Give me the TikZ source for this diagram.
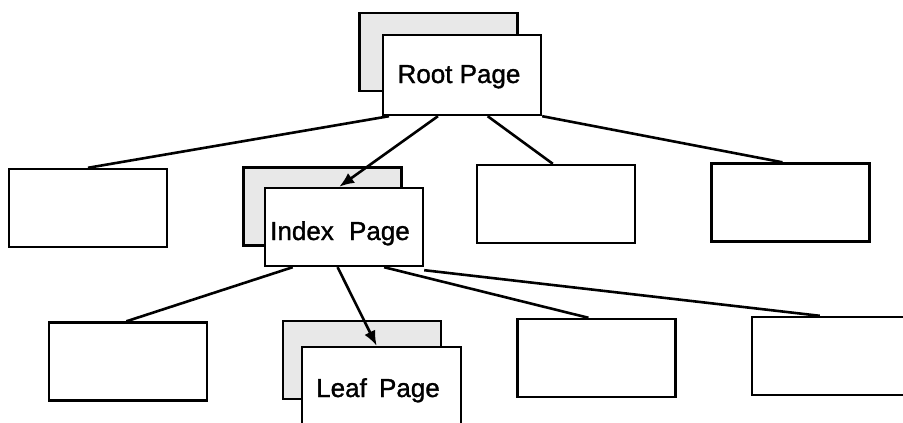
\documentclass[tikz,border=0pt]{standalone}
\usepackage{fontspec}
\setmainfont{Liberation Sans}[FakeBold=1.2]
\usetikzlibrary{arrows.meta,calc}

\tikzset{
  page/.style={draw, line width=2.4pt, fill=white, rectangle, inner sep=0pt,
    minimum width=158pt, minimum height=78pt},
  shadow page/.style={page, fill=gray!18},
  link/.style={line width=2.6pt},
  descend/.style={link, -{Latex[length=15pt,width=12pt]}},
  caption/.style={anchor=base, inner sep=0pt, font=\fontsize{26}{30}\selectfont}
}

\begin{document}
\begin{tikzpicture}[x=1pt,y=-1pt]
  \useasboundingbox (0,0) rectangle (903,423);
  \clip (0,0) rectangle (903,423);

  % root level
  \node[shadow page] (rootback) at (438.5,52) {};
  \node[page, minimum height=80pt] (root) at (462,75) {};

  % index level
  \node[page] (a) at (88,208) {};
  \node[shadow page] (indexback) at (322.5,206.5) {};
  \node[page] (index) at (344,227) {};
  \node[page] (c) at (556,204) {};
  \node[page] (d) at (790.5,202.5) {};

  % leaf level
  \node[page] (e) at (128,361.5) {};
  \node[shadow page] (leafback) at (362,360) {};
  \node[page, minimum width=159pt, minimum height=79pt] (leaf) at (381.5,386.5) {};
  \node[page] (g) at (596.5,358) {};
  \node[page] (h) at (831,356) {};

  % labels
  \node[caption] (rootlabel) at (459,83) {Root Page};
  \node[caption] (indexlabel) at (340,240) {Index\hspace{8pt} Page};
  \node[caption] (leaflabel) at (378,397) {Leaf\hspace{5pt} Page};

  % root to index level
  \draw[link] ($(root.south west)!0.045!(root.south east)$) -- ($(a.north west)!0.5!(a.north east)$);
  \draw[descend] ($(root.south west)!0.35!(root.south east)$) -- ($(index.north west)!0.47!(index.north east)$);
  \draw[link] ($(root.south west)!0.66!(root.south east)$) -- ($(c.north west)!0.48!(c.north east)$);
  \draw[link] (root.south east) -- ($(d.north west)!0.45!(d.north east)$);

  % index to leaf level
  \draw[link] ($(index.south west)!0.18!(index.south east)$) -- ($(e.north west)!0.49!(e.north east)$);
  \draw[descend] ($(index.south west)!0.46!(index.south east)$) -- ($(leaf.north west)!0.47!(leaf.north east)$);
  \draw[link] ($(index.south west)!0.75!(index.south east)$) -- ($(g.north west)!0.45!(g.north east)$);
  \draw[link] ($(index.south east)+(0,3)$) -- ($(h.north west)!0.43!(h.north east)$);
\end{tikzpicture}
\end{document}
